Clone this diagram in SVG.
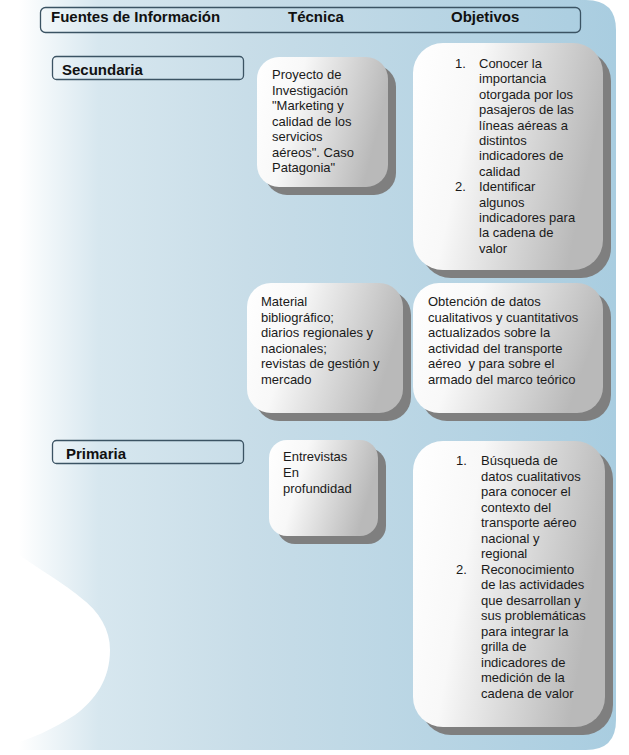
<svg xmlns="http://www.w3.org/2000/svg" width="629" height="755" viewBox="0 0 629 755">
<defs>
<linearGradient id="bg" gradientUnits="userSpaceOnUse" x1="0" y1="0" x2="616" y2="0">
<stop offset="0" stop-color="#ffffff"/>
<stop offset="0.03" stop-color="#ffffff"/>
<stop offset="0.16" stop-color="#d7e7ef"/>
<stop offset="0.4" stop-color="#c8dde8"/>
<stop offset="1" stop-color="#a9cde0"/>
</linearGradient>
<linearGradient id="box" x1="0" y1="0" x2="1" y2="0.25">
<stop offset="0" stop-color="#ffffff"/>
<stop offset="0.35" stop-color="#f8f8f8"/>
<stop offset="1" stop-color="#b9b9b9"/>
</linearGradient>
<style>
.hdr{fill:none;stroke:#3b5363;stroke-width:1.3}
.hdrt{font-family:"Liberation Sans",Arial,sans-serif;font-size:15px;font-weight:bold;fill:#111}
.sh{fill:#7f7f7f}
.bx{fill:url(#box)}
.t{font-family:"Liberation Sans",Arial,sans-serif;font-size:13px;fill:#1a1a1a}
</style>
</defs>
<rect width="629" height="755" fill="#ffffff"/>
<path d="M0,0 H586 Q616,0 616,30 V720 Q616,750 586,750 H0 Z" fill="url(#bg)"/>
<path d="M0,540 C30,565 60,580 80,597 C100,612 110,630 110,650 C110,680 95,700 75,715 C55,728 30,740 0,748 Z" fill="#ffffff"/>

<g id="header">
<rect class="hdr" x="40.5" y="7.5" width="540" height="25" rx="5"/>
<text class="hdrt" x="51" y="22">Fuentes de Información</text>
<text class="hdrt" x="288" y="22">Técnica</text>
<text class="hdrt" x="451" y="22">Objetivos</text>
</g>

<g id="secundaria">
<rect class="hdr" x="52.5" y="56.5" width="191" height="23" rx="4"/>
<text class="hdrt" x="62" y="75">Secundaria</text>
</g>

<g id="primaria">
<rect class="hdr" x="52.5" y="440.5" width="191" height="23" rx="4"/>
<text class="hdrt" x="66" y="459">Primaria</text>
</g>

<g id="tec1">
<rect class="sh" x="265" y="65" width="131" height="130" rx="22"/>
<rect class="bx" x="257" y="57" width="131" height="130" rx="22"/>
<text class="t" x="272" y="79">Proyecto de</text>
<text class="t" x="272" y="94.5">Investigación</text>
<text class="t" x="272" y="110">"Marketing y</text>
<text class="t" x="272" y="125.5">calidad de los</text>
<text class="t" x="272" y="141">servicios</text>
<text class="t" x="272" y="156.5">aéreos". Caso</text>
<text class="t" x="272" y="172">Patagonia"</text>
</g>

<g id="obj1">
<rect class="sh" x="421" y="51" width="190" height="227" rx="30"/>
<rect class="bx" x="413" y="43" width="190" height="227" rx="30"/>
<text class="t" x="455" y="68">1.</text>
<text class="t" x="479" y="68">Conocer la</text>
<text class="t" x="479" y="83.4">importancia</text>
<text class="t" x="479" y="98.8">otorgada por los</text>
<text class="t" x="479" y="114.2">pasajeros de las</text>
<text class="t" x="479" y="129.6">líneas aéreas a</text>
<text class="t" x="479" y="145">distintos</text>
<text class="t" x="479" y="160.4">indicadores de</text>
<text class="t" x="479" y="175.8">calidad</text>
<text class="t" x="455" y="191.2">2.</text>
<text class="t" x="479" y="191.2">Identificar</text>
<text class="t" x="479" y="206.6">algunos</text>
<text class="t" x="479" y="222">indicadores para</text>
<text class="t" x="479" y="237.4">la cadena de</text>
<text class="t" x="479" y="252.8">valor</text>
</g>

<g id="tec2">
<rect class="sh" x="255" y="291" width="156" height="130" rx="24"/>
<rect class="bx" x="247" y="283" width="156" height="130" rx="24"/>
<text class="t" x="261" y="306">Material</text>
<text class="t" x="261" y="321.6">bibliográfico;</text>
<text class="t" x="261" y="337.2">diarios regionales y</text>
<text class="t" x="261" y="352.8">nacionales;</text>
<text class="t" x="261" y="368.4">revistas de gestión y</text>
<text class="t" x="261" y="384">mercado</text>
</g>

<g id="obj2">
<rect class="sh" x="421" y="291" width="190" height="130" rx="26"/>
<rect class="bx" x="413" y="283" width="190" height="130" rx="26"/>
<text class="t" x="428" y="306">Obtención de datos</text>
<text class="t" x="428" y="321.6">cualitativos y cuantitativos</text>
<text class="t" x="428" y="337.2">actualizados sobre la</text>
<text class="t" x="428" y="352.8">actividad del transporte</text>
<text class="t" x="428" y="368.4" xml:space="preserve">aéreo  y para sobre el</text>
<text class="t" x="428" y="384">armado del marco teórico</text>
</g>

<g id="tec3">
<rect class="sh" x="277" y="448" width="109" height="96" rx="18"/>
<rect class="bx" x="269" y="440" width="109" height="96" rx="18"/>
<text class="t" x="283" y="461">Entrevistas</text>
<text class="t" x="283" y="477">En</text>
<text class="t" x="283" y="493">profundidad</text>
</g>

<g id="obj3">
<rect class="sh" x="421" y="449" width="192" height="286" rx="30"/>
<rect class="bx" x="413" y="441" width="192" height="286" rx="30"/>
<text class="t" x="456" y="465">1.</text>
<text class="t" x="481" y="465">Búsqueda de</text>
<text class="t" x="481" y="480.5">datos cualitativos</text>
<text class="t" x="481" y="496">para conocer el</text>
<text class="t" x="481" y="511.5">contexto del</text>
<text class="t" x="481" y="527">transporte aéreo</text>
<text class="t" x="481" y="542.5">nacional y</text>
<text class="t" x="481" y="558">regional</text>
<text class="t" x="456" y="573.5">2.</text>
<text class="t" x="481" y="573.5">Reconocimiento</text>
<text class="t" x="481" y="589">de las actividades</text>
<text class="t" x="481" y="604.5">que desarrollan y</text>
<text class="t" x="481" y="620">sus problemáticas</text>
<text class="t" x="481" y="635.5">para integrar la</text>
<text class="t" x="481" y="651">grilla de</text>
<text class="t" x="481" y="666.5">indicadores de</text>
<text class="t" x="481" y="682">medición de la</text>
<text class="t" x="481" y="697.5">cadena de valor</text>
</g>

<g id="connectors"></g>
</svg>
